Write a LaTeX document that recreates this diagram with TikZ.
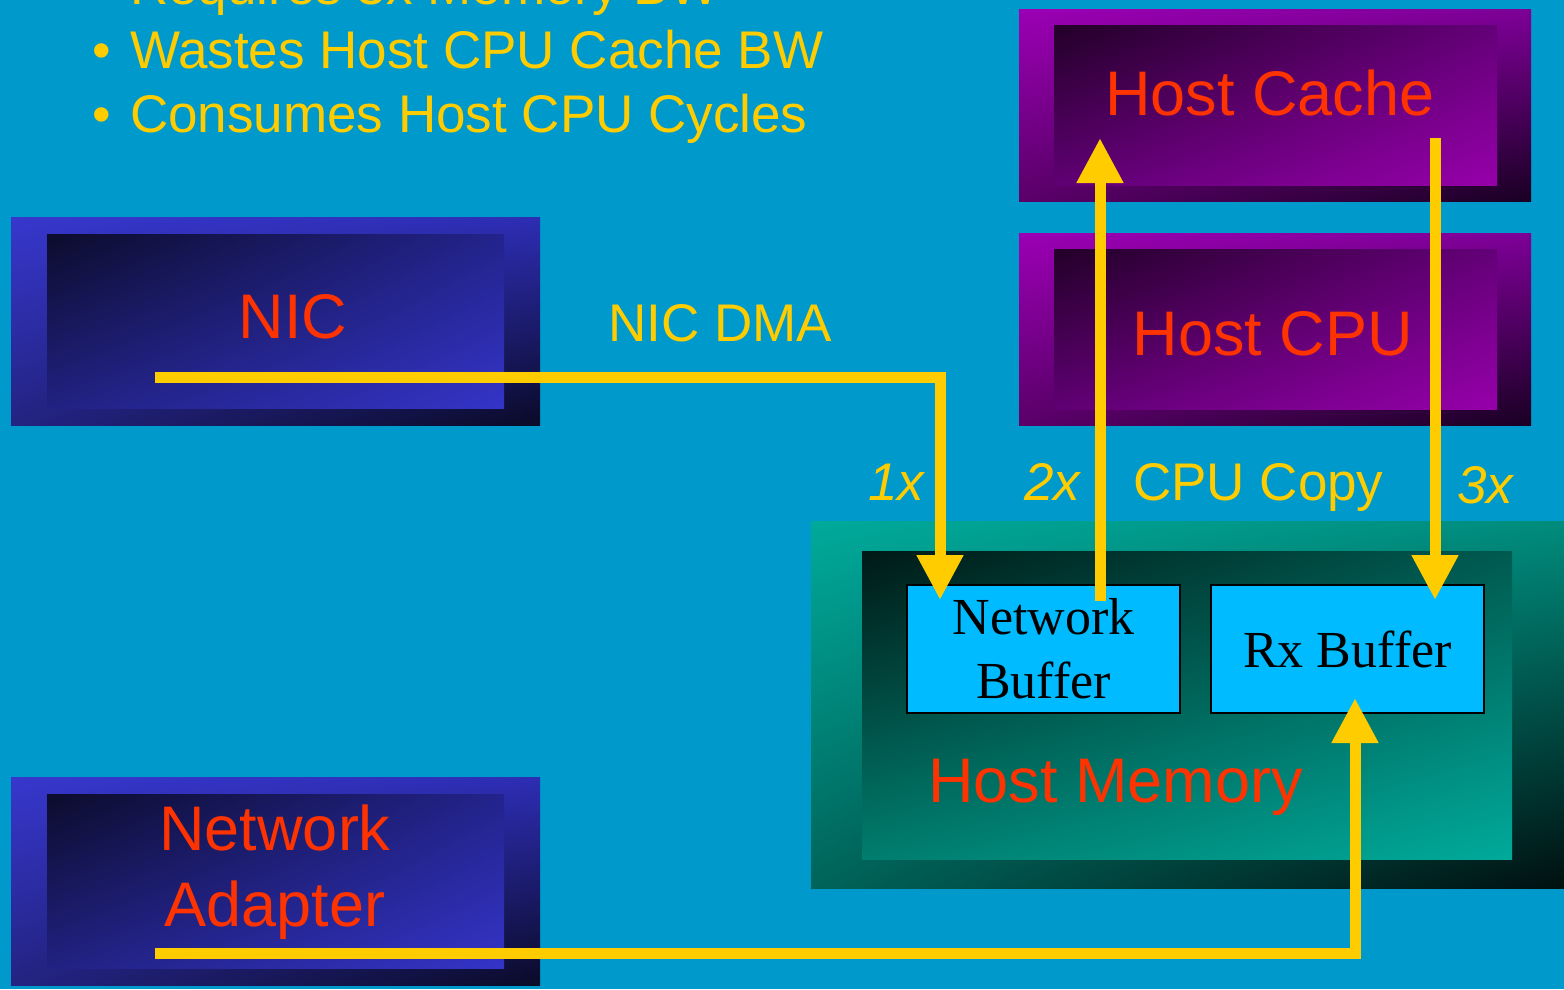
\documentclass[tikz,border=0pt]{standalone}
\usepackage{fontspec}
\setmainfont{Liberation Sans}
\newfontfamily\seriffont{Liberation Serif}
\usetikzlibrary{arrows.meta,shadings}
\definecolor{bgblue}{HTML}{0099CC}
\definecolor{ylw}{HTML}{FFCC00}
\definecolor{redtxt}{HTML}{FF3300}
\definecolor{buf}{HTML}{00BBFF}
\definecolor{bOul}{RGB}{55,55,205}\definecolor{bOur}{RGB}{45,45,180}\definecolor{bOll}{RGB}{35,35,130}\definecolor{bOlr}{RGB}{10,10,40}
\definecolor{bIul}{RGB}{12,12,45}\definecolor{bIur}{RGB}{35,35,140}\definecolor{bIll}{RGB}{33,33,130}\definecolor{bIlr}{RGB}{52,52,200}
\definecolor{pOul}{RGB}{155,0,180}\definecolor{pOur}{RGB}{125,0,150}\definecolor{pOll}{RGB}{90,0,105}\definecolor{pOlr}{RGB}{25,0,35}
\definecolor{pIul}{RGB}{35,0,40}\definecolor{pIur}{RGB}{100,0,120}\definecolor{pIll}{RGB}{95,0,115}\definecolor{pIlr}{RGB}{150,0,170}
\definecolor{tOul}{RGB}{0,170,155}\definecolor{tOur}{RGB}{0,140,125}\definecolor{tOll}{RGB}{0,100,90}\definecolor{tOlr}{RGB}{0,15,15}
\definecolor{tIul}{RGB}{0,25,22}\definecolor{tIur}{RGB}{0,90,80}\definecolor{tIll}{RGB}{0,125,110}\definecolor{tIlr}{RGB}{0,170,155}
\begin{document}
\begin{tikzpicture}[x=1pt,y=-1pt,
  box/.style={rectangle, inner sep=0pt, outer sep=0pt, draw=none},
  blueouter/.style={box, upper left=bOul, upper right=bOur, lower left=bOll, lower right=bOlr},
  blueinner/.style={box, upper left=bIul, upper right=bIur, lower left=bIll, lower right=bIlr},
  purpouter/.style={box, upper left=pOul, upper right=pOur, lower left=pOll, lower right=pOlr},
  purpinner/.style={box, upper left=pIul, upper right=pIur, lower left=pIll, lower right=pIlr},
  tealouter/.style={box, upper left=tOul, upper right=tOur, lower left=tOll, lower right=tOlr},
  tealinner/.style={box, upper left=tIul, upper right=tIur, lower left=tIll, lower right=tIlr},
  bufbox/.style={box, fill=buf, draw=black, line width=1.5pt, minimum width=273pt, minimum height=128pt, align=center, font=\seriffont\fontsize{52}{64}\selectfont},
  ylwtxt/.style={inner sep=0pt, text=ylw, font=\fontsize{53}{64}\selectfont},
  redlbl/.style={inner sep=0pt, text=redtxt, font=\fontsize{63}{76}\selectfont},
  conn/.style={draw=ylw, line width=11pt, line join=miter, -{Triangle[length=45pt,width=44pt]}}
]
\useasboundingbox (0,0) rectangle (1564,989);
\clip (0,0) rectangle (1564,989);
\fill[bgblue] (0,0) rectangle (1564,989);

% bullets
\node[ylwtxt, anchor=base west] (b1) at (130,4) {\llap{•\hspace{19pt}}Requires 3x Memory BW};
\node[ylwtxt, anchor=base west] (b2) at (130,68) {\llap{•\hspace{19pt}}Wastes Host CPU Cache BW};
\node[ylwtxt, anchor=base west] (b3) at (130,132) {\llap{•\hspace{19pt}}Consumes Host CPU Cycles};

% NIC
\node[blueouter, minimum width=529pt, minimum height=208pt] (nicO) at (275.5,321) {};
\node[blueinner, minimum width=457pt, minimum height=174pt] (nicI) at (275.5,321) {};
\node[redlbl, anchor=base] (nicL) at (293,338) {NIC};

% Network Adapter
\node[blueouter, minimum width=529pt, minimum height=208pt] (naO) at (275.5,881) {};
\node[blueinner, minimum width=457pt, minimum height=174pt] (naI) at (275.5,881) {};
\node[redlbl, align=center] (naL) at (275,872) {Network\\Adapter};

% Host Cache
\node[purpouter, minimum width=512pt, minimum height=192pt] (hcO) at (1275,105) {};
\node[purpinner, minimum width=443pt, minimum height=160pt] (hcI) at (1275.5,105) {};
\node[redlbl, anchor=base] (hcL) at (1270,115) {Host Cache};

% Host CPU
\node[purpouter, minimum width=512pt, minimum height=192pt] (cpuO) at (1275,329) {};
\node[purpinner, minimum width=443pt, minimum height=160pt] (cpuI) at (1275.5,329) {};
\node[redlbl, anchor=base] (cpuL) at (1273,355) {Host CPU};

% Host Memory
\node[tealouter, minimum width=759pt, minimum height=367pt] (hmO) at (1190.5,704.5) {};
\node[tealinner, minimum width=650pt, minimum height=308pt] (hmI) at (1187,705) {};
\node[redlbl, anchor=base west] (hmL) at (928,802) {Host Memory};

% Buffers
\node[bufbox] (nb) at (1043.5,649) {Network\\Buffer};
\node[bufbox] (rx) at (1347.5,649) {Rx Buffer};

% labels
\node[ylwtxt, anchor=base west] (dma) at (608,341) {NIC DMA};
\node[ylwtxt, anchor=base west] (x1) at (868,500) {\itshape 1x};
\node[ylwtxt, anchor=base west] (x2) at (1024,500) {\itshape 2x};
\node[ylwtxt, anchor=base west] (copy) at (1133,500) {CPU Copy};
\node[ylwtxt, anchor=base west] (x3) at (1457,503) {\itshape 3x};

% connector end points
\coordinate (nicsrc) at (155,377);
\coordinate (nbtip) at (940,600);
\coordinate (nbsrc) at (1100,601);
\coordinate (hctip) at (1100,138);
\coordinate (hcsrc) at (1435,138);
\coordinate (rxtip) at (1435,600);
\coordinate (nasrc) at (155,953);
\coordinate (rxbot) at (1355,698);

\draw[conn] (nicsrc) -| (nbtip);
\draw[conn] (nbsrc) -- (hctip);
\draw[conn] (hcsrc) -- (rxtip);
\draw[conn] (nasrc) -| (rxbot);
\end{tikzpicture}
\end{document}
